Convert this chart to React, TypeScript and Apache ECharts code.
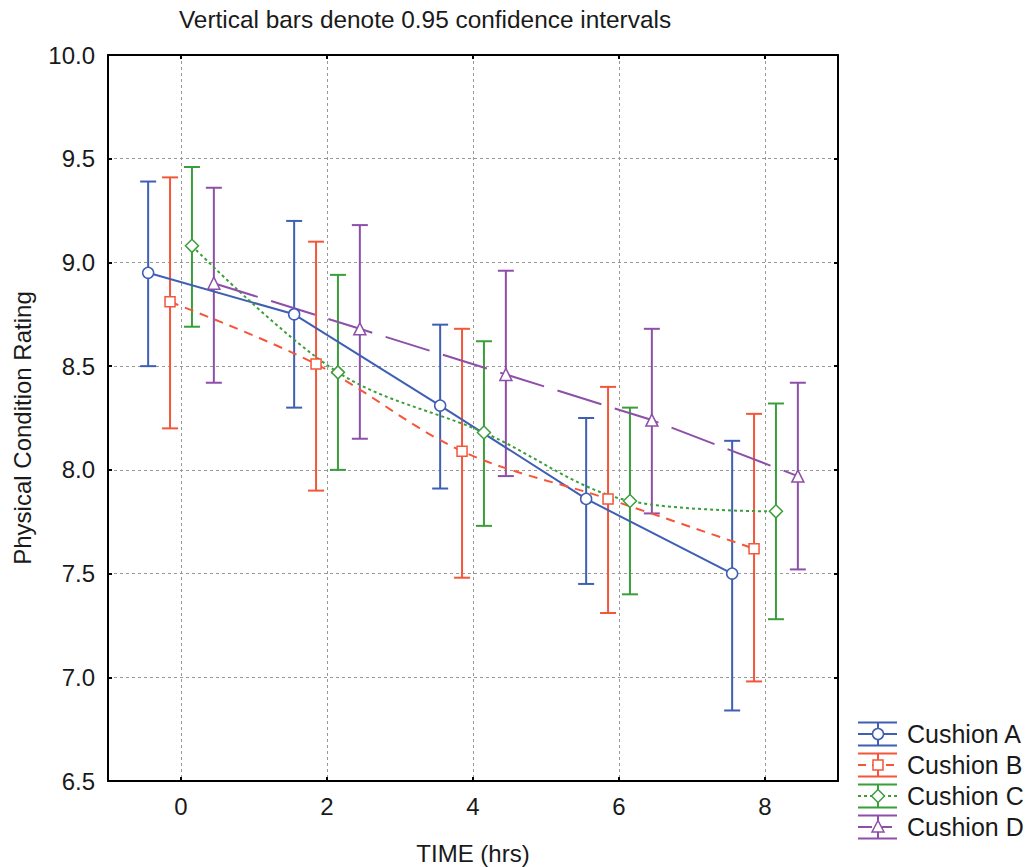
import React, { useEffect, useRef } from "react";
import * as echarts from "echarts";

const times = [0, 2, 4, 6, 8];
const seriesNames = ["Cushion A", "Cushion B", "Cushion C", "Cushion D"];
const offsets = [-0.45, -0.15, 0.15, 0.45];

const aMean = [8.95, 8.75, 8.31, 7.86, 7.5];
const aLow = [8.5, 8.3, 7.91, 7.45, 6.84];
const aHigh = [9.39, 9.2, 8.7, 8.25, 8.14];

const bMean = [8.81, 8.51, 8.09, 7.86, 7.62];
const bLow = [8.2, 7.9, 7.48, 7.31, 6.98];
const bHigh = [9.41, 9.1, 8.68, 8.4, 8.27];

const cMean = [9.08, 8.47, 8.18, 7.85, 7.8];
const cLow = [8.69, 8.0, 7.73, 7.4, 7.28];
const cHigh = [9.46, 8.94, 8.62, 8.3, 8.32];

const dMean = [8.9, 8.68, 8.46, 8.24, 7.97];
const dLow = [8.42, 8.15, 7.97, 7.79, 7.52];
const dHigh = [9.36, 9.18, 8.96, 8.68, 8.42];

const yTicks = [6.5, 7.0, 7.5, 8.0, 8.5, 9.0, 9.5, 10.0];

const means = [aMean, bMean, cMean, dMean];
const lows = [aLow, bLow, cLow, dLow];
const highs = [aHigh, bHigh, cHigh, dHigh];

const colors = ["#3F5FB5", "#F4563A", "#3A9E3A", "#8E4FA8"];
const lineTypes: any[] = ["solid", [9, 7], [3, 3], [46, 14]];
const smooths = [false, 0.35, 0.35, false];
const symbols = ["circle", "rect", "diamond", "triangle"];
const symbolSizes = [11, 10, 13, 12];

const FONT = "'Liberation Sans', Arial, Helvetica, sans-serif";

export default function App() {
  const ref = useRef<HTMLDivElement>(null);
  useEffect(() => {
    if (!ref.current) return;
    const chart = echarts.init(ref.current, null, { renderer: "svg" });

    const series: any[] = [];
    // error bars
    seriesNames.forEach((name, i) => {
      const color = colors[i];
      series.push({
        type: "custom",
        name: name + " CI",
        xAxisIndex: 0,
        yAxisIndex: 0,
        z: 3,
        silent: true,
        data: times.map((t, k) => [t + offsets[i], lows[i][k], highs[i][k]]),
        renderItem: (params: any, api: any) => {
          const x = api.value(0);
          const lo = api.coord([x, api.value(1)]);
          const hi = api.coord([x, api.value(2)]);
          const hw = 8;
          const st = { stroke: color, lineWidth: 2, fill: "none" };
          return {
            type: "group",
            children: [
              { type: "line", shape: { x1: lo[0], y1: lo[1], x2: hi[0], y2: hi[1] }, style: st },
              { type: "line", shape: { x1: lo[0] - hw, y1: lo[1], x2: lo[0] + hw, y2: lo[1] }, style: st },
              { type: "line", shape: { x1: hi[0] - hw, y1: hi[1], x2: hi[0] + hw, y2: hi[1] }, style: st },
            ],
          };
        },
      });
    });
    // lines
    seriesNames.forEach((name, i) => {
      series.push({
        type: "line",
        name,
        xAxisIndex: 0,
        yAxisIndex: 0,
        z: 4,
        smooth: smooths[i],
        data: times.map((t, k) => [t + offsets[i], means[i][k]]),
        symbol: symbols[i],
        symbolSize: symbolSizes[i],
        showAllSymbol: true,
        lineStyle: { color: colors[i], width: 2, type: lineTypes[i] },
        itemStyle: { color: "#ffffff", borderColor: colors[i], borderWidth: 1.5 },
      });
    });

    // legend graphic
    const legendEls: any[] = [];
    seriesNames.forEach((name, i) => {
      const cy = 734 + i * 31;
      const c = colors[i];
      const st = { stroke: c, lineWidth: 2 };
      legendEls.push(
        { type: "line", shape: { x1: 858, y1: cy - 11.5, x2: 897, y2: cy - 11.5 }, style: st },
        { type: "line", shape: { x1: 858, y1: cy + 11.5, x2: 897, y2: cy + 11.5 }, style: st },
        { type: "line", shape: { x1: 878, y1: cy - 11.5, x2: 878, y2: cy + 11.5 }, style: st },
        {
          type: "line",
          shape: { x1: 858, y1: cy, x2: 897, y2: cy },
          style: { stroke: c, lineWidth: 2, lineDash: i === 0 ? null : i === 1 ? [8, 6] : i === 2 ? [3, 3] : [14, 6] },
        }
      );
      const ms = { fill: "#ffffff", stroke: c, lineWidth: 1.5 };
      if (i === 0) legendEls.push({ type: "circle", shape: { cx: 878, cy, r: 5.5 }, style: ms });
      if (i === 1) legendEls.push({ type: "rect", shape: { x: 873, y: cy - 5, width: 10, height: 10 }, style: ms });
      if (i === 2)
        legendEls.push({
          type: "polygon",
          shape: { points: [[878, cy - 6.5], [884.5, cy], [878, cy + 6.5], [871.5, cy]] },
          style: ms,
        });
      if (i === 3)
        legendEls.push({
          type: "polygon",
          shape: { points: [[878, cy - 6.5], [884, cy + 5], [872, cy + 5]] },
          style: ms,
        });
      legendEls.push({
        type: "text",
        x: 907,
        y: cy,
        style: { text: name, font: `25px ${FONT}`, fill: "#1a1a1a", verticalAlign: "middle", align: "left" },
      });
    });

    const tickCommon = { show: true, inside: true, length: 4, lineStyle: { color: "#000", width: 2 } };

    chart.setOption({
      animation: false,
      backgroundColor: "#ffffff",
      grid: { left: 108, right: 192, top: 55, bottom: 86 },
      xAxis: [
        {
          type: "value",
          min: -1,
          max: 9,
          position: "bottom",
          axisLine: { show: true, onZero: false, lineStyle: { color: "#000", width: 2 } },
          axisTick: { ...tickCommon, customValues: times },
          axisLabel: {
            customValues: times,
            margin: 13,
            fontSize: 24,
            fontFamily: FONT,
            color: "#1a1a1a",
          },
          splitLine: { show: true, lineStyle: { color: "#999", type: [3, 3], width: 1 } },
        },
        {
          type: "value",
          min: -1,
          max: 9,
          position: "top",
          axisLine: { show: true, onZero: false, lineStyle: { color: "#000", width: 2 } },
          axisTick: { ...tickCommon, customValues: times },
          axisLabel: { show: false },
          splitLine: { show: false },
        },
      ],
      yAxis: [
        {
          type: "value",
          min: 6.5,
          max: 10,
          interval: 0.5,
          position: "left",
          axisLine: { show: true, onZero: false, lineStyle: { color: "#000", width: 2 } },
          axisTick: tickCommon,
          axisLabel: {
            margin: 13,
            fontSize: 24,
            fontFamily: FONT,
            color: "#1a1a1a",
            formatter: (v: number) => v.toFixed(1),
          },
          splitLine: { show: true, lineStyle: { color: "#999", type: [3, 3], width: 1 } },
        },
        {
          type: "value",
          min: 6.5,
          max: 10,
          interval: 0.5,
          position: "right",
          axisLine: { show: true, onZero: false, lineStyle: { color: "#000", width: 2 } },
          axisTick: tickCommon,
          axisLabel: { show: false },
          splitLine: { show: false },
        },
      ],
      graphic: [
        {
          type: "text",
          x: 425,
          y: 19,
          style: {
            text: "Vertical bars denote 0.95 confidence intervals",
            font: `24.4px ${FONT}`,
            fill: "#1a1a1a",
            align: "center",
            verticalAlign: "middle",
          },
        },
        {
          type: "text",
          x: 473,
          y: 853,
          style: { text: "TIME (hrs)", font: `24px ${FONT}`, fill: "#1a1a1a", align: "center", verticalAlign: "middle" },
        },
        {
          type: "text",
          x: 22,
          y: 428,
          rotation: Math.PI / 2,
          style: {
            text: "Physical Condition Rating",
            font: `24px ${FONT}`,
            fill: "#1a1a1a",
            align: "center",
            verticalAlign: "middle",
          },
        },
        ...legendEls,
      ],
      series,
    });
    return () => chart.dispose();
  }, []);
  return <div ref={ref} style={{ position: "fixed", left: 0, top: 0, width: 1030, height: 867 }} />;
}
